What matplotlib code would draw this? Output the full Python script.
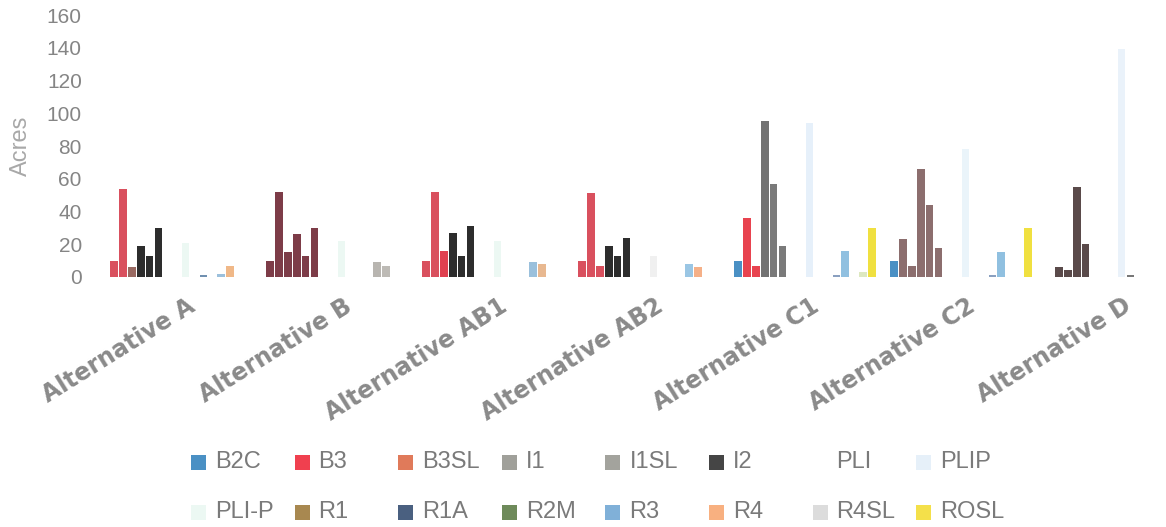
import matplotlib
matplotlib.use("Agg")
import matplotlib.pyplot as plt
import matplotlib.transforms as mtransforms
from matplotlib.patches import Rectangle
import numpy as np

# ---- data -------------------------------------------------------------
alternatives = ["Alternative A", "Alternative B", "Alternative AB1", "Alternative AB2",
                "Alternative C1", "Alternative C2", "Alternative D"]
zones = ["B2C", "B3", "B3SL", "I1", "I1SL", "I2", "PLI", "PLIP",
         "PLI-P", "R1", "R1A", "R2M", "R3", "R4", "R4SL", "ROSL"]

# acres per zone, one list per alternative (order follows `zones`)
alt_a   = [10, 54, 6, 19, 13, 30, 0, 0, 21, 0, 1, 0, 2, 7, 0, 0]
alt_b   = [10, 52, 15, 26, 13, 30, 0, 0, 22, 0, 0, 0, 9, 7, 0, 0]
alt_ab1 = [10, 52, 16, 27, 13, 31, 0, 0, 22, 0, 0, 0, 9, 8, 0, 0]
alt_ab2 = [10, 51, 7, 19, 13, 24, 0, 0, 13, 0, 0, 0, 8, 6, 0, 0]
alt_c1  = [10, 36, 7, 95, 57, 19, 0, 0, 94, 0, 0, 1, 16, 0, 3, 30]
alt_c2  = [10, 23, 7, 66, 44, 18, 0, 0, 78, 0, 0, 1, 15, 0, 0, 30]
alt_d   = [0, 6, 4, 55, 20, 0, 0, 0, 139, 1, 0, 0, 0, 0, 0, 0]
values = [alt_a, alt_b, alt_ab1, alt_ab2, alt_c1, alt_c2, alt_d]

y_ticks = [0, 20, 40, 60, 80, 100, 120, 140, 160]

# ---- styling ----------------------------------------------------------
zone_colors = {
    "B2C": "#4a90c4", "B3": "#f0404f", "B3SL": "#e07a5a", "I1": "#a0a09a",
    "I1SL": "#a3a39d", "I2": "#454545", "PLI": "#ffffff", "PLIP": "#e6f0f9",
    "PLI-P": "#ecf8f3", "R1": "#a88850", "R1A": "#4a6080", "R2M": "#6e8a5a",
    "R3": "#80b0d8", "R4": "#f8b080", "R4SL": "#dcdcdc", "ROSL": "#f4e04a",
}
# per-alternative shading of the bars
red, dark = "#d9505e", "#2d2d2d"
group_tints = {
    "Alternative A": {"B2C": red, "B3": red, "B3SL": "#9a6a62", "I1": dark,
                      "I1SL": dark, "I2": dark, "R1A": "#7090b0", "R3": "#9cc0dc",
                      "R4": "#f0b888"},
    "Alternative B": {z: "#7d3c48" for z in ["B2C", "B3", "B3SL", "I1", "I1SL", "I2"]}
                     | {"R3": "#b8b5b0", "R4": "#bdbab5"},
    "Alternative AB1": {"B2C": red, "B3": red, "B3SL": "#e04050", "I1": dark,
                        "I1SL": dark, "I2": dark, "R3": "#9ac0dc", "R4": "#e8b890"},
    "Alternative AB2": {"B2C": red, "B3": red, "B3SL": red, "I1": dark,
                        "I1SL": dark, "I2": dark, "PLI-P": "#f0f0f0",
                        "R3": "#9ac6e4", "R4": "#f5b088"},
    "Alternative C1": {"B3": "#e8434f", "B3SL": "#e8434f", "I1": "#727272",
                       "I1SL": "#7a7a7a", "I2": "#7a7a7a", "PLI-P": "#e6f0fa",
                       "R2M": "#8aa0c0", "R3": "#90c0e0", "R4SL": "#dde8c0",
                       "ROSL": "#f0e040"},
    "Alternative C2": {z: "#8c6e6e" for z in ["B3", "B3SL", "I1", "I1SL", "I2"]}
                      | {"PLI-P": "#eaf4fa", "R2M": "#8aa0c0", "R3": "#90c0e0",
                         "ROSL": "#f0e040"},
    "Alternative D": {z: "#5a4a4a" for z in ["B2C", "B3", "B3SL", "I1", "I1SL", "I2"]}
                     | {"PLI-P": "#eaf2fa", "R1": "#777777"},
}

W, H, DPI = 1166, 527, 100
fig = plt.figure(figsize=(W / DPI, H / DPI), dpi=DPI)
fig.patch.set_facecolor("white")

# axes placement in pixels
ax_left, ax_right, ax_top, ax_bottom = 95, 1160, 15, 277
ax = fig.add_axes([ax_left / W, 1 - ax_bottom / H,
                   (ax_right - ax_left) / W, (ax_bottom - ax_top) / H])

n_zones = len(zones)
slot = 0.0572
bar_w = slot * 0.82
x = np.arange(len(alternatives))
offsets = (np.arange(n_zones) - (n_zones - 1) / 2) * slot

for gi, alt in enumerate(alternatives):
    tints = group_tints.get(alt, {})
    for zi, zone in enumerate(zones):
        v = values[gi][zi]
        if v <= 0:
            continue
        ax.bar(x[gi] + offsets[zi], v, width=bar_w,
               color=tints.get(zone, zone_colors[zone]), linewidth=0)

ax.set_ylim(0, 160)
ax.set_xlim((ax_left - 181) / 156, (ax_right - 181) / 156)
ax.set_yticks(y_ticks)
ax.tick_params(axis="y", length=0, pad=9.5, labelsize=15, labelcolor="#858585")
for lab in ax.get_yticklabels():
    lab.set_fontfamily("Liberation Sans")

# y-axis title
fig.text(21 / W, 1 - 146 / H, "Acres", rotation=90, ha="center", va="center",
         fontsize=17, color="#a8a8a8", family="Liberation Sans")

ax.set_xticks(x)
ax.set_xticklabels(alternatives, rotation=32, ha="right", va="top",
                   rotation_mode="anchor", fontsize=17, fontweight="bold",
                   color="#8a8a8a", family="DejaVu Sans")
ax.tick_params(axis="x", length=0, pad=12)
shift = mtransforms.ScaledTranslation(6 / DPI, 0, fig.dpi_scale_trans)
for lab in ax.get_xticklabels():
    lab.set_transform(lab.get_transform() + shift)

for s in ax.spines.values():
    s.set_visible(False)
ax.set_facecolor("white")

# legend: two rows of eight evenly spaced entries
col_x0, col_step = 191, 103.6
row_y = [462, 512]
sw = 15
for i, zone in enumerate(zones):
    r, c = divmod(i, 8)
    px = col_x0 + col_step * c
    py = row_y[r]
    fig.patches.append(Rectangle((px / W, 1 - (py + sw / 2) / H), sw / W, sw / H,
                                 transform=fig.transFigure, facecolor=zone_colors[zone],
                                 edgecolor="none"))
    fig.text((px + 24) / W, 1 - py / H, zone, fontsize=17, color="#7a7a7a",
             family="Liberation Sans", va="center", ha="left")

fig.savefig("out.png", dpi=DPI, facecolor="white")
